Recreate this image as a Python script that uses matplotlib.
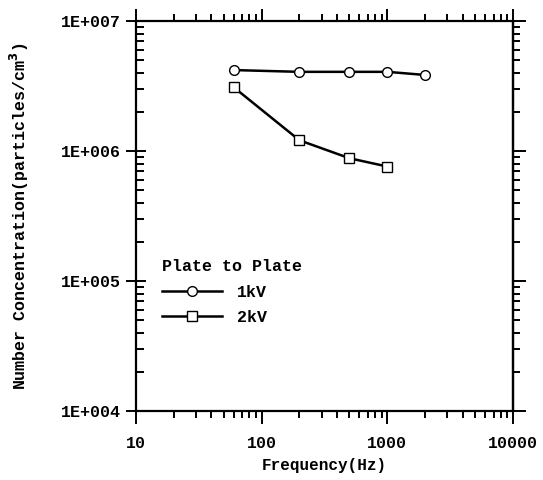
import matplotlib
matplotlib.use("Agg")
import matplotlib.pyplot as plt
from matplotlib.ticker import LogLocator, NullFormatter, FixedLocator

# Data
freq_1kv = [60, 200, 500, 1000, 2000]
conc_1kv = [4.2e6, 4.07e6, 4.07e6, 4.07e6, 3.85e6]
freq_2kv = [60, 200, 500, 1000]
conc_2kv = [3.1e6, 1.21e6, 8.8e5, 7.6e5]

x_ticks = [10, 100, 1000, 10000]
x_labels = ["10", "100", "1000", "10000"]
y_ticks = [1e4, 1e5, 1e6, 1e7]
y_labels = ["1E+004", "1E+005", "1E+006", "1E+007"]

plt.rcParams['font.family'] = ['Liberation Mono', 'DejaVu Sans Mono']
plt.rcParams['font.weight'] = 'bold'
plt.rcParams['axes.labelweight'] = 'bold'
plt.rcParams['mathtext.default'] = 'bf'

fig = plt.figure(figsize=(5.43, 4.8), dpi=100)
ax = fig.add_axes([0.250, 0.144, 0.695, 0.812])

ax.plot(freq_1kv, conc_1kv, color='black', lw=1.8, marker='o', ms=7,
        mfc='white', mec='black', mew=1.0, label='1kV')
ax.plot(freq_2kv, conc_2kv, color='black', lw=1.8, marker='s', ms=7,
        mfc='white', mec='black', mew=1.0, label='2kV')

ax.set_xscale('log')
ax.set_yscale('log')
ax.set_xlim(10, 10000)
ax.set_ylim(1e4, 1e7)

ax.xaxis.set_major_locator(FixedLocator(x_ticks))
ax.set_xticklabels(x_labels)
ax.yaxis.set_major_locator(FixedLocator(y_ticks))
ax.set_yticklabels(y_labels)
ax.xaxis.set_minor_locator(LogLocator(base=10, subs=range(2, 10)))
ax.yaxis.set_minor_locator(LogLocator(base=10, subs=range(2, 10)))
ax.xaxis.set_minor_formatter(NullFormatter())
ax.yaxis.set_minor_formatter(NullFormatter())

for s in ax.spines.values():
    s.set_linewidth(1.6)

# x ticks stick out top and bottom
ax.tick_params(axis='x', which='both', top=True, bottom=True, direction='out',
               width=1.4, labelsize=12, pad=9)
ax.tick_params(axis='x', which='major', length=9)
ax.tick_params(axis='x', which='minor', length=5)
# y ticks: minor point inward on the left, major cross the spine
ax.tick_params(axis='y', which='minor', direction='in', length=6, width=1.4, right=False)
ax.tick_params(axis='y', which='major', direction='inout', length=14, width=1.4,
               labelsize=12, right=False)

# right side ticks point outward
sec = ax.secondary_yaxis('right')
sec.set_yscale('log')
sec.yaxis.set_major_locator(FixedLocator(y_ticks))
sec.yaxis.set_minor_locator(LogLocator(base=10, subs=range(2, 10)))
sec.yaxis.set_major_formatter(NullFormatter())
sec.yaxis.set_minor_formatter(NullFormatter())
sec.tick_params(which='major', direction='out', length=9, width=1.4)
sec.tick_params(which='minor', direction='out', length=5, width=1.4)
sec.spines['right'].set_linewidth(1.6)

ax.set_xlabel('Frequency(Hz)', fontsize=11.5, labelpad=5)
ax.set_ylabel('Number Concentration(particles/cm$^3$)', fontsize=12, labelpad=22)

leg = ax.legend(title='Plate to Plate', loc='upper left',
                bbox_to_anchor=(0.07, 0.39), frameon=False, fontsize=12,
                title_fontsize=12, handlelength=3.6, handletextpad=0.9,
                labelspacing=0.62, borderaxespad=0, borderpad=0)
leg._legend_box.align = 'left'
leg._legend_box.sep = 8
leg.get_title().set_fontweight('bold')

fig.savefig('out.png', dpi=100)
